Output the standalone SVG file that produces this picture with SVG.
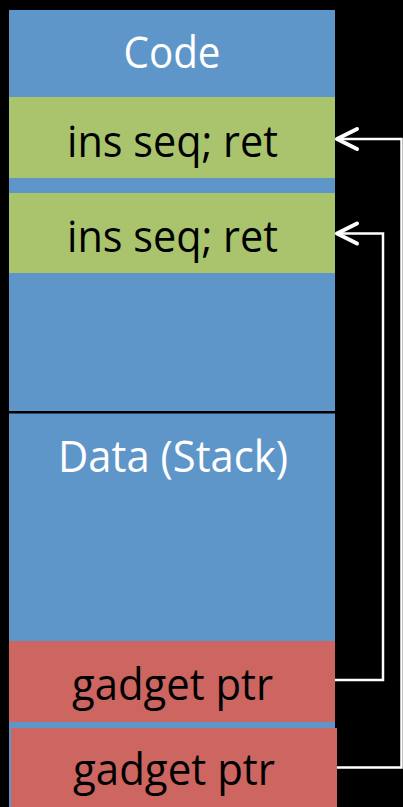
<svg xmlns="http://www.w3.org/2000/svg" width="403" height="807" viewBox="0 0 403 807">
<defs>
<style>
.lbl{font-family:"Open Sans","Liberation Sans",sans-serif;font-size:43px;text-anchor:middle}
.w{fill:#ffffff}
.k{fill:#000000}
.conn{fill:none;stroke:#ffffff;stroke-width:2.5}
.head{fill:none;stroke:#ffffff;stroke-width:4;stroke-linecap:round;stroke-linejoin:round}
</style>
</defs>
<rect x="0" y="0" width="403" height="807" fill="#000000"/>
<g id="code">
<rect x="9" y="10" width="326" height="401" fill="#5f96c9"/>
<text class="lbl w" x="172" y="68" textLength="97" lengthAdjust="spacingAndGlyphs">Code</text>
</g>
<g id="gadget1">
<rect x="9" y="97" width="326" height="81" fill="#a9c46c"/>
<text class="lbl k" x="172.5" y="157" textLength="211" lengthAdjust="spacingAndGlyphs">ins seq; ret</text>
</g>
<g id="gadget2">
<rect x="9" y="193" width="326" height="80" fill="#a9c46c"/>
<text class="lbl k" x="172.5" y="252" textLength="211" lengthAdjust="spacingAndGlyphs">ins seq; ret</text>
</g>
<g id="data">
<rect x="9" y="413.5" width="326" height="393.5" fill="#5f96c9"/>
<text class="lbl w" x="173" y="472" textLength="230" lengthAdjust="spacingAndGlyphs">Data (Stack)</text>
</g>
<g id="ptr1">
<rect x="9" y="641" width="326" height="81" fill="#cd6661"/>
<text class="lbl k" x="172.5" y="700" textLength="201" lengthAdjust="spacingAndGlyphs">gadget ptr</text>
</g>
<g id="ptr2">
<rect x="11" y="728" width="326" height="79" fill="#cd6661"/>
<text class="lbl k" x="174" y="785" textLength="202" lengthAdjust="spacingAndGlyphs">gadget ptr</text>
</g>
<g id="connectors">
<polyline class="conn" points="337,767.5 401.5,767.5 401.5,139 337,139"/>
<polyline class="head" points="357,129 337,139 357,149"/>
<polyline class="conn" points="335,680 383,680 383,233.5 337,233.5"/>
<polyline class="head" points="357,223.5 337,233.5 357,243.5"/>
</g>
</svg>
